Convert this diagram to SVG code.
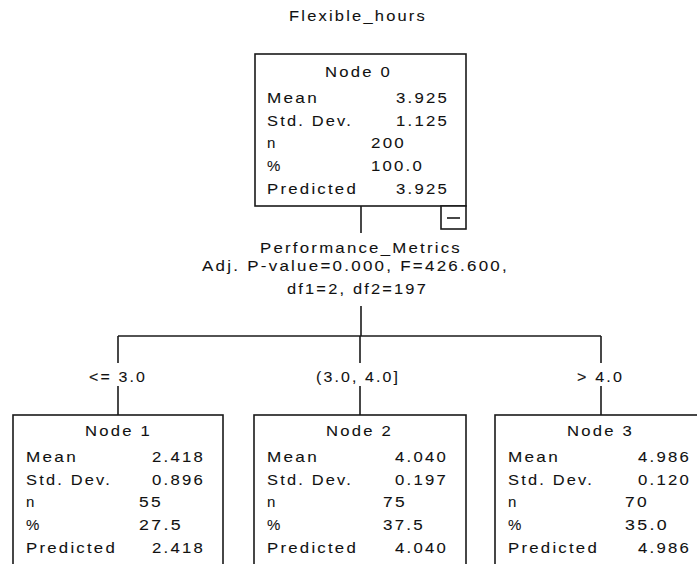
<svg xmlns="http://www.w3.org/2000/svg" width="697" height="564" viewBox="0 0 697 564">
<style>
text{font-family:"Liberation Sans",Arial,sans-serif;font-size:15px;fill:#111;stroke:#111;stroke-width:0.08;letter-spacing:2px}
.box{fill:#fff;stroke:#1a1a1a;stroke-width:1.6}
.ln{stroke:#1a1a1a;stroke-width:1.6;fill:none}
</style>
<rect width="697" height="564" fill="#fff"/>
<text x="289" y="21" textLength="138" lengthAdjust="spacingAndGlyphs">Flexible_hours</text>
<g id="connectors" class="ln">
<line x1="361" y1="206" x2="361" y2="233"/>
<line x1="361" y1="306" x2="361" y2="336"/>
<line x1="118" y1="336" x2="601" y2="336"/>
<line x1="118" y1="336" x2="118" y2="363"/>
<line x1="118" y1="386" x2="118" y2="415"/>
<line x1="360" y1="336" x2="360" y2="363"/>
<line x1="360" y1="386" x2="360" y2="415"/>
<line x1="601" y1="336" x2="601" y2="363"/>
<line x1="601" y1="386" x2="601" y2="415"/>
</g>
<g id="split-label">
<text x="260" y="253" textLength="202" lengthAdjust="spacingAndGlyphs">Performance_Metrics</text>
<text x="202" y="271" textLength="307" lengthAdjust="spacingAndGlyphs">Adj. P-value=0.000, F=426.600,</text>
<text x="287" y="294" textLength="141" lengthAdjust="spacingAndGlyphs">df1=2, df2=197</text>
</g>
<g id="branch-labels">
<text x="89" y="382" textLength="58" lengthAdjust="spacingAndGlyphs">&lt;= 3.0</text>
<text x="316" y="382" textLength="84" lengthAdjust="spacingAndGlyphs">(3.0, 4.0]</text>
<text x="577" y="382" textLength="47" lengthAdjust="spacingAndGlyphs">&gt; 4.0</text>
</g>
<g id="node0" transform="translate(255,54)">
<rect class="box" x="0" y="0" width="211" height="152"/>
<text x="70" y="23" textLength="67" lengthAdjust="spacingAndGlyphs">Node 0</text>
<text x="12" y="49" textLength="52" lengthAdjust="spacingAndGlyphs">Mean</text>
<text x="12" y="71.5" textLength="86" lengthAdjust="spacingAndGlyphs">Std. Dev.</text>
<text x="12" y="94">n</text>
<text x="12" y="117">%</text>
<text x="12" y="140" textLength="91" lengthAdjust="spacingAndGlyphs">Predicted</text>
<text x="141" y="49" textLength="53" lengthAdjust="spacingAndGlyphs">3.925</text>
<text x="141" y="71.5" textLength="53" lengthAdjust="spacingAndGlyphs">1.125</text>
<text x="116" y="94" textLength="35" lengthAdjust="spacingAndGlyphs">200</text>
<text x="116" y="117" textLength="53" lengthAdjust="spacingAndGlyphs">100.0</text>
<text x="141" y="140" textLength="53" lengthAdjust="spacingAndGlyphs">3.925</text>
<rect class="box" x="186" y="152" width="25" height="23"/>
<line class="ln" x1="192" y1="164" x2="205" y2="164"/>
</g>
<g id="node1" transform="translate(13,415)">
<rect class="box" x="0" y="0" width="210" height="165"/>
<text x="72" y="21" textLength="67" lengthAdjust="spacingAndGlyphs">Node 1</text>
<text x="13" y="47" textLength="52" lengthAdjust="spacingAndGlyphs">Mean</text>
<text x="13" y="69.5" textLength="86" lengthAdjust="spacingAndGlyphs">Std. Dev.</text>
<text x="13" y="92">n</text>
<text x="13" y="115">%</text>
<text x="13" y="138" textLength="91" lengthAdjust="spacingAndGlyphs">Predicted</text>
<text x="139" y="47" textLength="53" lengthAdjust="spacingAndGlyphs">2.418</text>
<text x="139" y="69.5" textLength="53" lengthAdjust="spacingAndGlyphs">0.896</text>
<text x="126" y="92" textLength="24" lengthAdjust="spacingAndGlyphs">55</text>
<text x="126" y="115" textLength="44" lengthAdjust="spacingAndGlyphs">27.5</text>
<text x="139" y="138" textLength="53" lengthAdjust="spacingAndGlyphs">2.418</text>
</g>
<g id="node2" transform="translate(254,415)">
<rect class="box" x="0" y="0" width="212" height="165"/>
<text x="72" y="21" textLength="67" lengthAdjust="spacingAndGlyphs">Node 2</text>
<text x="13" y="47" textLength="52" lengthAdjust="spacingAndGlyphs">Mean</text>
<text x="13" y="69.5" textLength="86" lengthAdjust="spacingAndGlyphs">Std. Dev.</text>
<text x="13" y="92">n</text>
<text x="13" y="115">%</text>
<text x="13" y="138" textLength="91" lengthAdjust="spacingAndGlyphs">Predicted</text>
<text x="141" y="47" textLength="53" lengthAdjust="spacingAndGlyphs">4.040</text>
<text x="141" y="69.5" textLength="53" lengthAdjust="spacingAndGlyphs">0.197</text>
<text x="129" y="92" textLength="24" lengthAdjust="spacingAndGlyphs">75</text>
<text x="129" y="115" textLength="42" lengthAdjust="spacingAndGlyphs">37.5</text>
<text x="141" y="138" textLength="53" lengthAdjust="spacingAndGlyphs">4.040</text>
</g>
<g id="node3" transform="translate(495,415)">
<rect class="box" x="0" y="0" width="212" height="165"/>
<text x="72" y="21" textLength="67" lengthAdjust="spacingAndGlyphs">Node 3</text>
<text x="13" y="47" textLength="52" lengthAdjust="spacingAndGlyphs">Mean</text>
<text x="13" y="69.5" textLength="86" lengthAdjust="spacingAndGlyphs">Std. Dev.</text>
<text x="13" y="92">n</text>
<text x="13" y="115">%</text>
<text x="13" y="138" textLength="91" lengthAdjust="spacingAndGlyphs">Predicted</text>
<text x="143" y="47" textLength="53" lengthAdjust="spacingAndGlyphs">4.986</text>
<text x="143" y="69.5" textLength="53" lengthAdjust="spacingAndGlyphs">0.120</text>
<text x="130" y="92" textLength="24" lengthAdjust="spacingAndGlyphs">70</text>
<text x="130" y="115" textLength="44" lengthAdjust="spacingAndGlyphs">35.0</text>
<text x="143" y="138" textLength="53" lengthAdjust="spacingAndGlyphs">4.986</text>
</g>
</svg>
